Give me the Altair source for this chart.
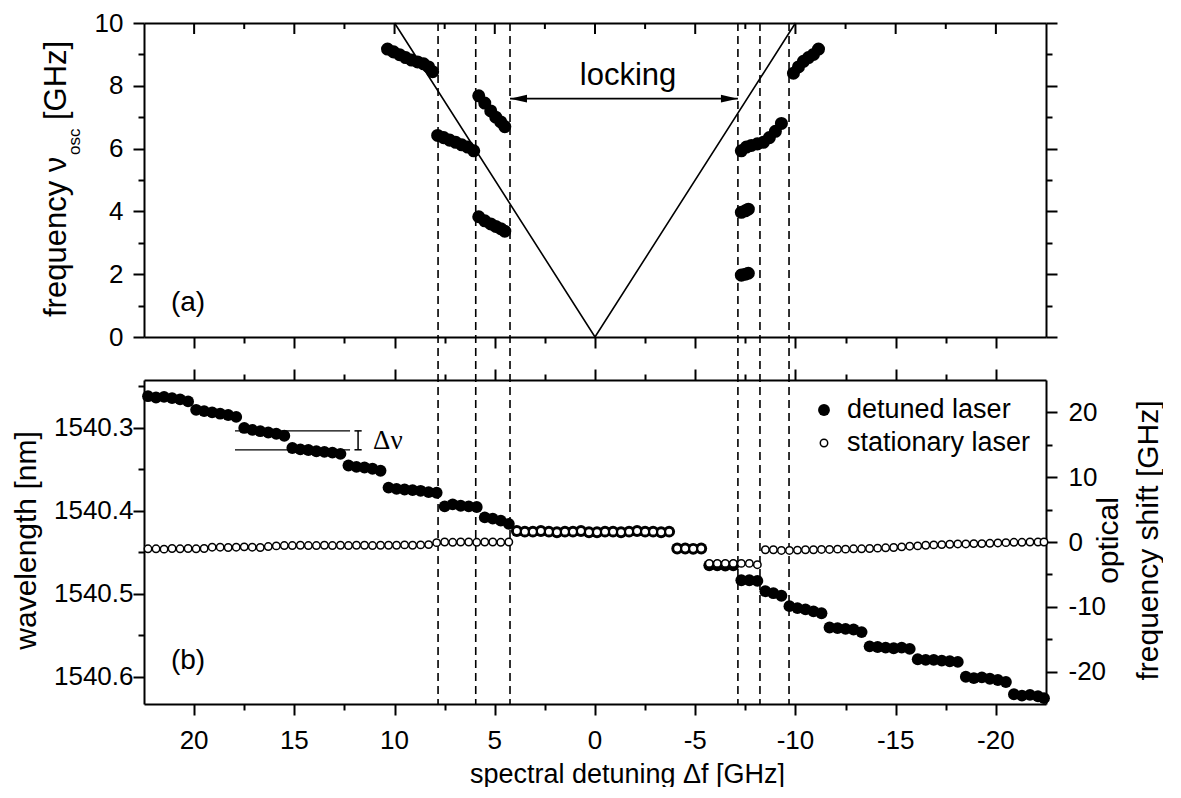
import altair as alt
import pandas as pd

FONT = "Liberation Sans"

# ---------------- panel (a): oscillation frequency ----------------
TOP_DET = [10.35, 10.05, 9.75, 9.45, 9.15, 8.85, 8.55, 8.3, 8.1,
           5.8, 5.5, 5.2, 4.95, 4.7, 4.5,
           7.85, 7.55, 7.25, 6.95, 6.65, 6.35, 6.05,
           5.8, 5.5, 5.2, 4.95, 4.7, 4.5,
           -7.3, -7.55, -7.8, -8.1, -8.4, -8.7, -9.0, -9.3,
           -9.9, -10.15, -10.4, -10.65, -10.9, -11.15,
           -7.3, -7.5, -7.65,
           -7.3, -7.5, -7.65]
TOP_NU = [9.17, 9.08, 8.99, 8.9, 8.82, 8.76, 8.7, 8.6, 8.45,
          7.68, 7.45, 7.2, 7.0, 6.85, 6.7,
          6.42, 6.35, 6.27, 6.2, 6.12, 6.05, 5.93,
          3.83, 3.7, 3.6, 3.52, 3.45, 3.37,
          5.93, 6.05, 6.1, 6.15, 6.2, 6.35, 6.55, 6.8,
          8.4, 8.6, 8.78, 8.9, 9.0, 9.17,
          3.97, 4.02, 4.07,
          1.97, 2.0, 2.03]
V_DET = [10, 0, -10]
V_NU = [10, 0, 10]
DASH_DET = [7.83, 5.95, 4.24, -7.13, -8.23, -9.68]
LOCK_FROM, LOCK_TO, LOCK_NU = 4.24, -7.13, 7.59

# ---------------- panel (b): wavelength / optical shift ----------------
DETUNING = [22.3, 21.9, 21.5, 21.1, 20.7, 20.3, 19.9, 19.5, 19.1, 18.7, 18.3, 17.9,
            17.5, 17.1, 16.7, 16.3, 15.9, 15.5, 15.1, 14.7, 14.3, 13.9, 13.5, 13.1,
            12.7, 12.3, 11.9, 11.5, 11.1, 10.7, 10.3, 9.9, 9.5, 9.1, 8.7, 8.3,
            7.9, 7.5, 7.1, 6.7, 6.3, 5.9, 5.5, 5.1, 4.7, 4.3,
            3.9, 3.5, 3.1, 2.7, 2.3, 1.9, 1.5, 1.1, 0.7, 0.3,
            -0.1, -0.5, -0.9, -1.3, -1.7, -2.1, -2.5, -2.9, -3.3, -3.7,
            -4.1, -4.5, -4.9, -5.3, -5.7, -6.1, -6.5, -6.9, -7.3, -7.7, -8.1,
            -8.5, -8.9, -9.3, -9.7, -10.1, -10.5, -10.9, -11.3, -11.7, -12.1, -12.5,
            -12.9, -13.3, -13.7, -14.1, -14.5, -14.9, -15.3, -15.7, -16.1, -16.5, -16.9,
            -17.3, -17.7, -18.1, -18.5, -18.9, -19.3, -19.7, -20.1, -20.5, -20.9, -21.3,
            -21.7, -22.1, -22.4]
DETUNED_SHIFT = [22.5, 22.3, 22.4, 22.2, 22.0, 21.7, 20.4, 20.2, 20.0, 19.8, 19.6, 19.3,
                 17.6, 17.3, 17.1, 16.9, 16.7, 16.4, 14.5, 14.3, 14.2, 14.0, 13.9, 13.8,
                 13.6, 11.8, 11.6, 11.5, 11.3, 11.0, 8.4, 8.2, 8.1, 8.0, 7.9, 7.7,
                 7.6, 5.5, 5.8, 5.6, 5.5, 5.4, 3.8, 3.6, 3.3, 2.8,
                 1.7, 1.6, 1.6, 1.7, 1.6, 1.5, 1.6, 1.6, 1.7, 1.5,
                 1.5, 1.6, 1.6, 1.5, 1.6, 1.7, 1.6, 1.6, 1.5, 1.6,
                 -1.0, -1.0, -1.05, -1.0, -3.6, -3.6, -3.65, -3.6, -5.9, -5.9, -6.0,
                 -7.6, -7.9, -8.3, -9.9, -10.2, -10.4, -10.7, -11.0, -13.2, -13.3, -13.4,
                 -13.5, -13.9, -16.1, -16.2, -16.3, -16.4, -16.3, -16.5, -18.1, -18.2, -18.2,
                 -18.3, -18.4, -18.5, -20.8, -21.0, -20.9, -21.1, -21.3, -21.6, -23.5, -23.7,
                 -23.6, -23.8, -24.1]
STATIONARY_SHIFT = [-1.05, -1.05, -1.1, -1.0, -1.05, -1.0, -1.05, -1.0, -0.8, -0.8, -0.85, -0.8,
                    -0.75, -0.8, -0.85, -0.7, -0.6, -0.55, -0.55, -0.5, -0.55, -0.55, -0.5, -0.55,
                    -0.5, -0.55, -0.5, -0.5, -0.55, -0.5, -0.5, -0.5, -0.45, -0.5, -0.45, -0.4,
                    -0.1, 0.0, -0.05, 0.0, 0.0, -0.05, 0.0, 0.0, -0.05, 0.0,
                    1.7, 1.6, 1.6, 1.7, 1.6, 1.5, 1.6, 1.6, 1.7, 1.5,
                    1.5, 1.6, 1.6, 1.5, 1.6, 1.7, 1.6, 1.6, 1.5, 1.6,
                    -1.0, -1.0, -1.05, -1.0, -3.3, -3.3, -3.3, -3.3, -3.3, -3.3, -3.5,
                    -1.2, -1.2, -1.3, -1.3, -1.25, -1.2, -1.2, -1.15, -1.15, -1.1, -1.1,
                    -1.05, -1.05, -1.0, -0.95, -0.9, -0.85, -0.75, -0.65, -0.6, -0.5, -0.45,
                    -0.4, -0.35, -0.3, -0.3, -0.25, -0.25, -0.2, -0.15, -0.1, -0.05, -0.05,
                    0.0, 0.0, 0.0]
DNU_FROM, DNU_TO = 17.96, 12.22
DNU_LEVELS = [17.15, 14.23]
DNU_BAR_X = 11.82

# ---------------- ticks ----------------
X_TICKS = [-20, -17.5, -15, -12.5, -10, -7.5, -5, -2.5, 0, 2.5, 5, 7.5, 10, 12.5, 15, 17.5, 20]
X_LABELS = [20, 15, 10, 5, 0, -5, -10, -15, -20]
TOP_Y_TICKS = [0, 1, 2, 3, 4, 5, 6, 7, 8, 9, 10]
WL_TICKS = [1540.25, 1540.3, 1540.35, 1540.4, 1540.45, 1540.5, 1540.55, 1540.6]
SHIFT_TICKS = [-20, -15, -10, -5, 0, 5, 10, 15, 20]

W, H_TOP, H_BOT, GAP = 902, 314, 324, 43

xs = alt.Scale(domain=[-22.5, 22.5], reverse=True, nice=False, zero=False)
ys_top = alt.Scale(domain=[0, 10], nice=False, zero=False)
ys_ghz = alt.Scale(domain=[-25, 25], nice=False, zero=False)
ys_wl = alt.Scale(domain=[1540.2427, 1540.6328], reverse=True, nice=False, zero=False)


def tsize(test, major=11, minor=6):
    return {"condition": {"test": test, "value": major}, "value": minor}


XMAJ = "datum.value % 5 === 0"
YMAJ_TOP = "datum.value % 2 === 0"
WLMAJ = "round(datum.value * 100) % 10 === 0"
SHMAJ = "datum.value % 10 === 0"

one = pd.DataFrame({"a": [0]})

# ================= panel (a) =================
top_df = pd.DataFrame({"det": TOP_DET, "nu": TOP_NU})
v_df = pd.DataFrame({"det": V_DET, "nu": V_NU})
dash_df = pd.DataFrame({"det": DASH_DET})
xt_major = pd.DataFrame({"t": [t for t in X_TICKS if t % 5 == 0]})
xt_minor = pd.DataFrame({"t": [t for t in X_TICKS if t % 5 != 0]})

v_line = alt.Chart(v_df).mark_line(color="black", strokeWidth=1.6).encode(
    x=alt.X("det:Q", scale=xs, axis=alt.Axis(orient="bottom", values=X_TICKS, labels=False,
                                             tickSize=tsize(XMAJ), title=None)),
    y=alt.Y("nu:Q", scale=ys_top, axis=alt.Axis(
        orient="left", values=TOP_Y_TICKS,
        labelExpr=YMAJ_TOP + " ? '' + datum.value : ''",
        tickSize=tsize(YMAJ_TOP), labelPadding=10, title=None)),
)

top_pts = alt.Chart(top_df).mark_circle(color="black", size=170, opacity=1).encode(
    x=alt.X("det:Q", scale=xs, axis=alt.Axis(orient="top", values=X_TICKS, labels=False,
                                             ticks=False, title=None)),
    y=alt.Y("nu:Q", scale=ys_top, axis=alt.Axis(orient="right", values=TOP_Y_TICKS, labels=False,
                                                tickSize=tsize(YMAJ_TOP), title=None)),
)

top_ticks_major = alt.Chart(xt_major).mark_rule(color="black", strokeWidth=2).encode(
    x=alt.X("t:Q", scale=xs, axis=None), y=alt.value(0), y2=alt.value(11))
top_ticks_minor = alt.Chart(xt_minor).mark_rule(color="black", strokeWidth=2).encode(
    x=alt.X("t:Q", scale=xs, axis=None), y=alt.value(0), y2=alt.value(6))

dashes = alt.Chart(dash_df).mark_rule(color="black", strokeWidth=1.6, strokeDash=[8, 5]).encode(
    x=alt.X("det:Q", scale=xs, axis=None),
    y=alt.value(0), y2=alt.value(H_TOP + GAP + H_BOT))

arrow_df = pd.DataFrame({"a": [LOCK_FROM], "b": [LOCK_TO], "nu": [LOCK_NU]})
arrow = alt.Chart(arrow_df).mark_rule(color="black", strokeWidth=1.6).encode(
    x=alt.X("a:Q", scale=xs, axis=None), x2="b:Q",
    y=alt.Y("nu:Q", scale=ys_top, axis=None))
heads_df = pd.DataFrame({"det": [LOCK_FROM, LOCK_TO], "nu": [LOCK_NU, LOCK_NU],
                         "shape": ["M0,0L2,-0.45L2,0.45Z", "M0,0L-2,-0.45L-2,0.45Z"]})
heads = alt.Chart(heads_df).mark_point(filled=True, color="black", size=289, opacity=1,
                                       strokeWidth=0).encode(
    x=alt.X("det:Q", scale=xs, axis=None),
    y=alt.Y("nu:Q", scale=ys_top, axis=None),
    shape=alt.Shape("shape:N", scale=None))

lock_df = pd.DataFrame({"det": [-1.65], "nu": [8.3], "t": ["locking"]})
lock_text = alt.Chart(lock_df).mark_text(font=FONT, fontSize=31, align="center",
                                         baseline="middle", color="black").encode(
    x=alt.X("det:Q", scale=xs, axis=None), y=alt.Y("nu:Q", scale=ys_top, axis=None), text="t:N")

label_a = alt.Chart(one).mark_text(font=FONT, fontSize=28, align="center", baseline="middle",
                                   color="black", text="(a)").encode(
    x=alt.value(44), y=alt.value(280))

t1 = alt.Chart(one).mark_text(font=FONT, fontSize=31, angle=270, align="left",
                              baseline="alphabetic", color="black", text="frequency ν").encode(
    x=alt.value(-78), y=alt.value(294))
t2 = alt.Chart(one).mark_text(font=FONT, fontSize=17, angle=270, align="left",
                              baseline="alphabetic", color="black", text="osc").encode(
    x=alt.value(-64), y=alt.value(132))
t3 = alt.Chart(one).mark_text(font=FONT, fontSize=31, angle=270, align="left",
                              baseline="alphabetic", color="black", text="[GHz]").encode(
    x=alt.value(-78), y=alt.value(97))

top = alt.layer(v_line, top_pts, top_ticks_major, top_ticks_minor, dashes, arrow, heads,
                lock_text, label_a, t1, t2, t3).properties(
    width=W, height=H_TOP).resolve_axis(x="independent", y="independent")

# ================= panel (b) =================
bot_df = pd.DataFrame({"det": DETUNING, "det_shift": DETUNED_SHIFT, "stat_shift": STATIONARY_SHIFT})

wl_layer = alt.Chart(pd.DataFrame({"wl": WL_TICKS})).mark_point(opacity=0).encode(
    y=alt.Y("wl:Q", scale=ys_wl, axis=alt.Axis(
        orient="left", values=WL_TICKS,
        labelExpr=WLMAJ + " ? format(datum.value, '.1f') : ''",
        tickSize=tsize(WLMAJ), labelPadding=0,
        title="wavelength [nm]", titleAngle=270, titleX=-118, titleY=160,
        titleBaseline="middle", titleAlign="center", titleFontSize=30)))

filled = alt.Chart(bot_df).mark_circle(color="black", size=140, opacity=1).encode(
    x=alt.X("det:Q", scale=xs, axis=alt.Axis(
        orient="bottom", values=X_TICKS, labels=False,
        tickSize=tsize(XMAJ),
        title="spectral detuning Δf [GHz]", titleX=483, titleY=70,
        titleBaseline="middle", titleAlign="center", titleFontSize=27)),
    y=alt.Y("det_shift:Q", scale=ys_ghz, axis=alt.Axis(
        orient="right", values=SHIFT_TICKS,
        labelExpr=SHMAJ + " ? '' + datum.value : ''",
        tickSize=tsize(SHMAJ), labelPadding=11,
        title=["optical", "frequency shift [GHz]"], titleAngle=270, titleX=62, titleY=160,
        titleBaseline="middle", titleAlign="center", titleLineHeight=40, titleFontSize=30)),
)

open_pts = alt.Chart(bot_df).mark_point(shape="circle", filled=True, fill="white", stroke="black",
                                        strokeWidth=1.5, size=55, opacity=1, fillOpacity=1).encode(
    x=alt.X("det:Q", scale=xs, axis=alt.Axis(orient="top", values=X_TICKS, labels=False,
                                             tickSize=tsize(XMAJ), title=None)),
    y=alt.Y("stat_shift:Q", scale=ys_ghz, axis=None),
)

xlab_df = pd.DataFrame({"v": X_LABELS, "s": [str(v) for v in X_LABELS]})
x_labels = alt.Chart(xlab_df).mark_text(font=FONT, fontSize=26, align="center",
                                        baseline="middle", color="black").encode(
    x=alt.X("v:Q", scale=xs, axis=None), y=alt.value(H_BOT + 37), text="s:N")

dnu_df = pd.DataFrame({"a": [DNU_FROM, DNU_FROM], "b": [DNU_TO, DNU_TO], "lev": DNU_LEVELS})
dnu_lines = alt.Chart(dnu_df).mark_rule(color="black", strokeWidth=1.3).encode(
    x=alt.X("a:Q", scale=xs, axis=None), x2="b:Q",
    y=alt.Y("lev:Q", scale=ys_ghz, axis=None))
bar_df = pd.DataFrame({"x": [DNU_BAR_X], "lo": [DNU_LEVELS[1]], "hi": [DNU_LEVELS[0]]})
dnu_bar = alt.Chart(bar_df).mark_rule(color="black", strokeWidth=1.5).encode(
    x=alt.X("x:Q", scale=xs, axis=None),
    y=alt.Y("lo:Q", scale=ys_ghz, axis=None), y2="hi:Q")
cap_df = pd.DataFrame({"a": [DNU_BAR_X + 0.18, DNU_BAR_X + 0.18],
                       "b": [DNU_BAR_X - 0.18, DNU_BAR_X - 0.18], "lev": DNU_LEVELS})
dnu_caps = alt.Chart(cap_df).mark_rule(color="black", strokeWidth=1.5).encode(
    x=alt.X("a:Q", scale=xs, axis=None), x2="b:Q",
    y=alt.Y("lev:Q", scale=ys_ghz, axis=None))
dnu_txt_df = pd.DataFrame({"x": [11.07], "y": [15.6], "t": ["Δν"]})
dnu_text = alt.Chart(dnu_txt_df).mark_text(font="Liberation Serif", fontSize=27, align="left",
                                           baseline="middle", color="black").encode(
    x=alt.X("x:Q", scale=xs, axis=None), y=alt.Y("y:Q", scale=ys_ghz, axis=None), text="t:N")

leg_f = alt.Chart(one).mark_circle(color="black", size=140, opacity=1).encode(
    x=alt.value(680), y=alt.value(30))
leg_o = alt.Chart(one).mark_point(shape="circle", filled=True, fill="white", stroke="black",
                                  strokeWidth=1.5, size=55, opacity=1, fillOpacity=1).encode(
    x=alt.value(680), y=alt.value(63))
leg_t1 = alt.Chart(one).mark_text(font=FONT, fontSize=27, align="left", baseline="middle",
                                  color="black", text="detuned laser").encode(
    x=alt.value(703), y=alt.value(30))
leg_t2 = alt.Chart(one).mark_text(font=FONT, fontSize=27, align="left", baseline="middle",
                                  color="black", text="stationary laser").encode(
    x=alt.value(703), y=alt.value(63))
label_b = alt.Chart(one).mark_text(font=FONT, fontSize=28, align="center", baseline="middle",
                                   color="black", text="(b)").encode(
    x=alt.value(44), y=alt.value(281))

bottom = alt.layer(wl_layer, filled, open_pts, x_labels, dnu_lines, dnu_bar, dnu_caps, dnu_text,
                   leg_f, leg_o, leg_t1, leg_t2, label_b).properties(
    width=W, height=H_BOT).resolve_scale(y="independent").resolve_axis(
    x="independent", y="independent")

chart = alt.vconcat(top, bottom, spacing=GAP, bounds="flush").properties(
    padding={"left": 3, "top": 2, "right": 0, "bottom": 0},
    background="white",
).configure_view(stroke=None).configure_axis(
    domainColor="black", domainWidth=2, tickColor="black", tickWidth=2,
    labelFont=FONT, labelFontSize=26, labelColor="black",
    titleFont=FONT, titleColor="black", titleFontWeight="normal", grid=False,
)

chart.save("out.html", embed_options={"renderer": "svg", "actions": False})
